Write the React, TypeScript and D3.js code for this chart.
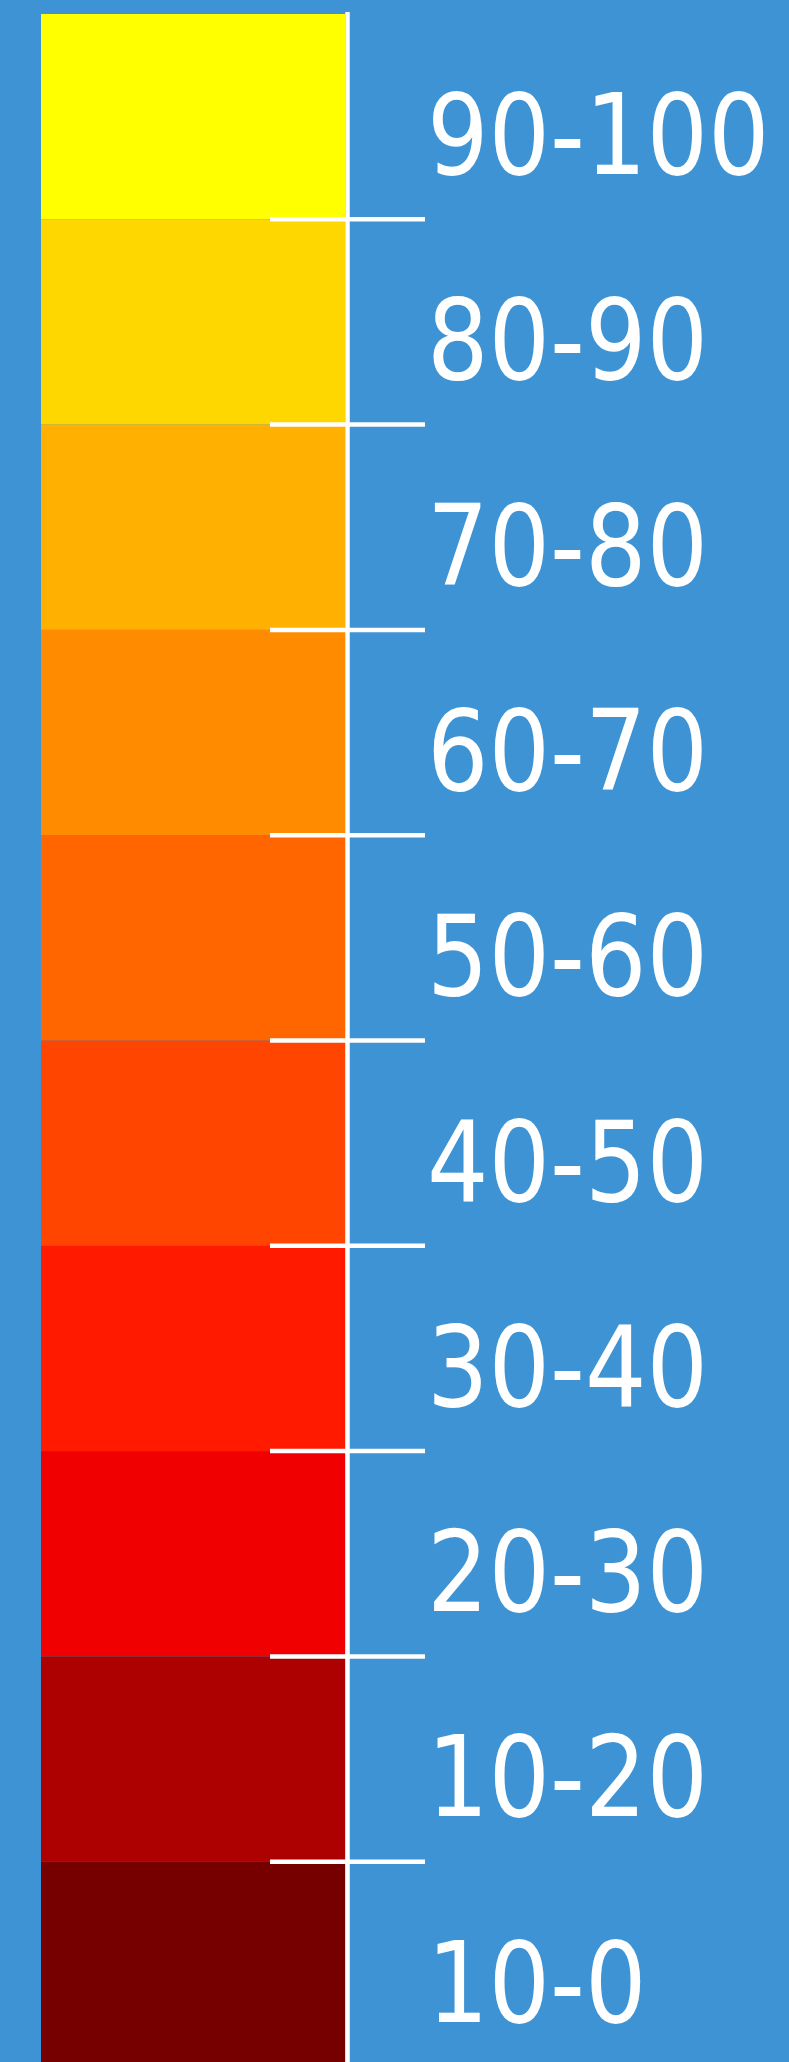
import React from "react";
import * as d3 from "d3";

const labels = ["90-100", "80-90", "70-80", "60-70", "50-60", "40-50", "30-40", "20-30", "10-20", "10-0"];
const colors = ["#FFFF00", "#FFD700", "#FFB000", "#FF8C00", "#FF6600", "#FF4500", "#FF1A00", "#F00000", "#AD0000", "#760000"];
const tickIndices = [1, 2, 3, 4, 5, 6, 7, 8, 9];

const W = 789;
const H = 2062;
const BG = "#3D93D3";

export default function App() {
  const y = d3.scaleLinear().domain([0, 10]).range([14, 14 + 2053]);
  const x0 = 41;
  const x1 = 345;
  const axisX = 347.5;
  return (
    <svg
      width={W}
      height={H}
      style={{ position: "absolute", left: 0, top: 0, display: "block" }}
    >
      <rect x={0} y={0} width={W} height={H} fill={BG} />
      {labels.map((l, i) => (
        <rect
          key={"r" + i}
          x={x0}
          y={y(i)}
          width={x1 - x0}
          height={y(i + 1) - y(i)}
          fill={colors[i]}
        />
      ))}
      <line x1={axisX} x2={axisX} y1={12} y2={H} stroke="#fff" strokeWidth={4.5} />
      {tickIndices.map((t) => (
        <line key={"t" + t} x1={270} x2={425} y1={y(t)} y2={y(t)} stroke="#fff" strokeWidth={4.5} />
      ))}
      {labels.map((l, i) => (
        <text
          key={"l" + i}
          transform={`translate(427,${y(i) + 160}) scale(0.96,1)`}
          fill="#fff"
          fontSize={112}
          fontStretch="condensed"
          fontFamily="'DejaVu Sans Condensed', 'DejaVu Sans', sans-serif"
        >
          {l}
        </text>
      ))}
    </svg>
  );
}
